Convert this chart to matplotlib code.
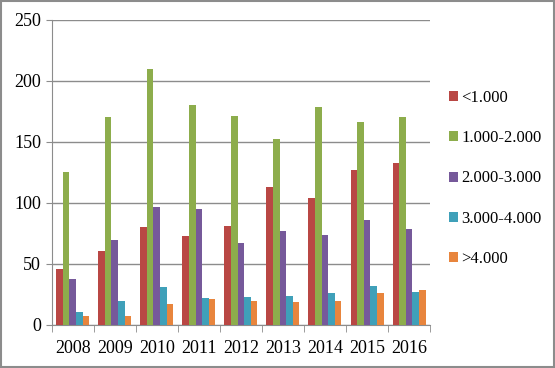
import matplotlib
matplotlib.use("Agg")
import matplotlib.pyplot as plt
from matplotlib.patches import Rectangle
import numpy as np

plt.rcParams['font.family'] = ['Liberation Serif', 'DejaVu Serif']

years = ['2008', '2009', '2010', '2011', '2012', '2013', '2014', '2015', '2016']
series_names = ['<1.000', '1.000-2.000', '2.000-3.000', '3.000-4.000', '>4.000']
lt_1000 = [46, 61, 80, 73, 81, 113, 104, 127, 133]
r1000_2000 = [125, 170, 210, 180, 171, 152, 179, 166, 170]
r2000_3000 = [38, 70, 97, 95, 67, 77, 74, 86, 79]
r3000_4000 = [11, 20, 31, 22, 23, 24, 26, 32, 27]
gt_4000 = [7, 7, 17, 21, 20, 19, 20, 26, 29]
colors = ['#B94744', '#8DAD4C', '#76599A', '#3FA0B9', '#E8853D']

fig = plt.figure(figsize=(5.55, 3.68), dpi=100)
ax = fig.add_axes([0.093, 0.117, 0.682, 0.829])

x = np.arange(len(years))
width = 0.157
all_series = [lt_1000, r1000_2000, r2000_3000, r3000_4000, gt_4000]
for i, (vals, name) in enumerate(zip(all_series, series_names)):
    ax.bar(x + (i - 2) * width, vals, width, color=colors[i], label=name, zorder=3)

ax.set_xlim(-0.5, len(years) - 0.5)
ax.set_ylim(0, 250)
ax.set_yticks([0, 50, 100, 150, 200, 250])
ax.yaxis.grid(True, color='#8c8c8c', linewidth=1, zorder=0)
ax.set_xticks(x)
ax.set_xticklabels(years)
ax.set_xticks(np.arange(-0.5, len(years), 1), minor=True)
ax.tick_params(axis='x', which='major', length=0, labelsize=13, pad=11)
ax.tick_params(axis='x', which='minor', length=5, color='#8c8c8c')
ax.tick_params(axis='y', length=4, color='#8c8c8c', labelsize=13)
for s in ['top', 'right']:
    ax.spines[s].set_visible(False)
for s in ['left', 'bottom']:
    ax.spines[s].set_color('#8c8c8c')

fig.legend(loc='center left', bbox_to_anchor=(0.782, 0.515), frameon=False,
           fontsize=12, handlelength=0.55, handleheight=0.55,
           handletextpad=0.2, labelspacing=1.45)

fig.patches.append(Rectangle((0.002, 0.003), 0.996, 0.994, transform=fig.transFigure,
                             fill=False, edgecolor='#8c8c8c', linewidth=1.5))

fig.savefig('out.png', dpi=100)
